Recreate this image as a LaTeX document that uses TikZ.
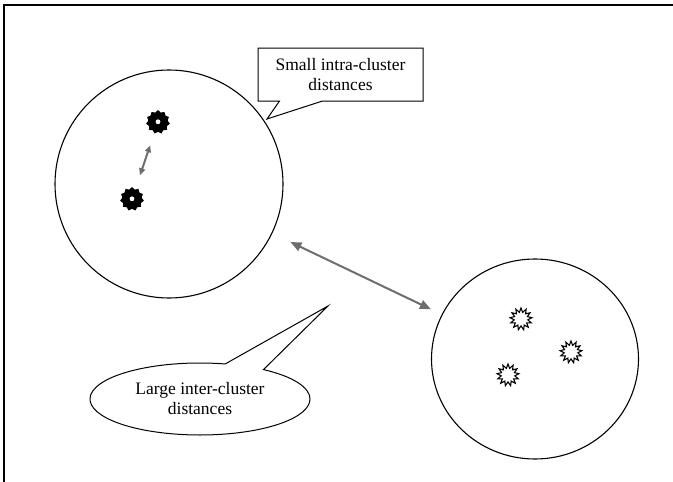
\documentclass[tikz,border=0pt]{standalone}
\usepackage{fontspec}
\setmainfont{Liberation Serif}
\usetikzlibrary{shapes.geometric, shapes.callouts, arrows.meta}
\definecolor{arrowgray}{HTML}{6E6E6E}
\tikzset{
  cluster/.style={draw, line width=1.1pt, inner sep=0pt}, % the two big rings
  fullpt/.style={star, star points=11, star point ratio=1.22, minimum size=22pt,
    inner sep=0pt, fill=black, draw=black, line width=1.4pt,
    path picture={\fill[white] (path picture bounding box.center) circle (2.4pt);}},
  openpt/.style={star, star points=13, star point ratio=1.6, minimum size=22pt,
    inner sep=0pt, draw=black, line width=1.1pt},
  gap/.style={{Triangle[length=11pt, width=9pt]}-{Triangle[length=11pt, width=9pt]},
    draw=arrowgray, line width=2pt},
  smallgap/.style={{Triangle[length=7pt, width=6pt]}-{Triangle[length=7pt, width=6pt]},
    draw=arrowgray, line width=2pt},
  note/.style={draw, line width=1pt, inner sep=0pt, align=center,
    font=\fontsize{17.5}{20}\selectfont},
}

\begin{document}
\begin{tikzpicture}[x=1pt, y=-1pt]
  \useasboundingbox (0,0) rectangle (673,482);
  % frame (top and left only)
  \draw[line width=1.5pt] (673,5) -- (4,5) -- (4,482);

  % clusters
  \node[cluster, circle, minimum size=228pt] (c1) at (169,184) {};
  \node[cluster, ellipse, minimum width=207pt, minimum height=200pt] (c2) at (535,359) {};

  % points
  \node[fullpt] (p1) at (158,122) {};
  \node[fullpt] (p2) at (132,199) {};
  \node[openpt] (q1) at (521,319) {};
  \node[openpt] (q2) at (571,352) {};
  \node[openpt] (q3) at (508,375) {};

  % distances
  \draw[smallgap, shorten <=13pt, shorten >=15pt] (p1) -- (p2);
  \draw[gap, shorten <=20pt, shorten >=12pt] (c1) -- (c2);

  % callouts
  \node[note, rectangle callout, minimum width=165pt, minimum height=53pt,
    callout absolute pointer={(267,119)}, callout pointer width=43pt]
    (intra) at (340.5,74.5) {Small intra-cluster\\distances};
  \node[note, ellipse callout, minimum width=220pt, minimum height=72pt,
    callout absolute pointer={(328,306)}, callout pointer arc=22]
    (inter) at (200,399) {Large inter-cluster\\distances};
\end{tikzpicture}
\end{document}
